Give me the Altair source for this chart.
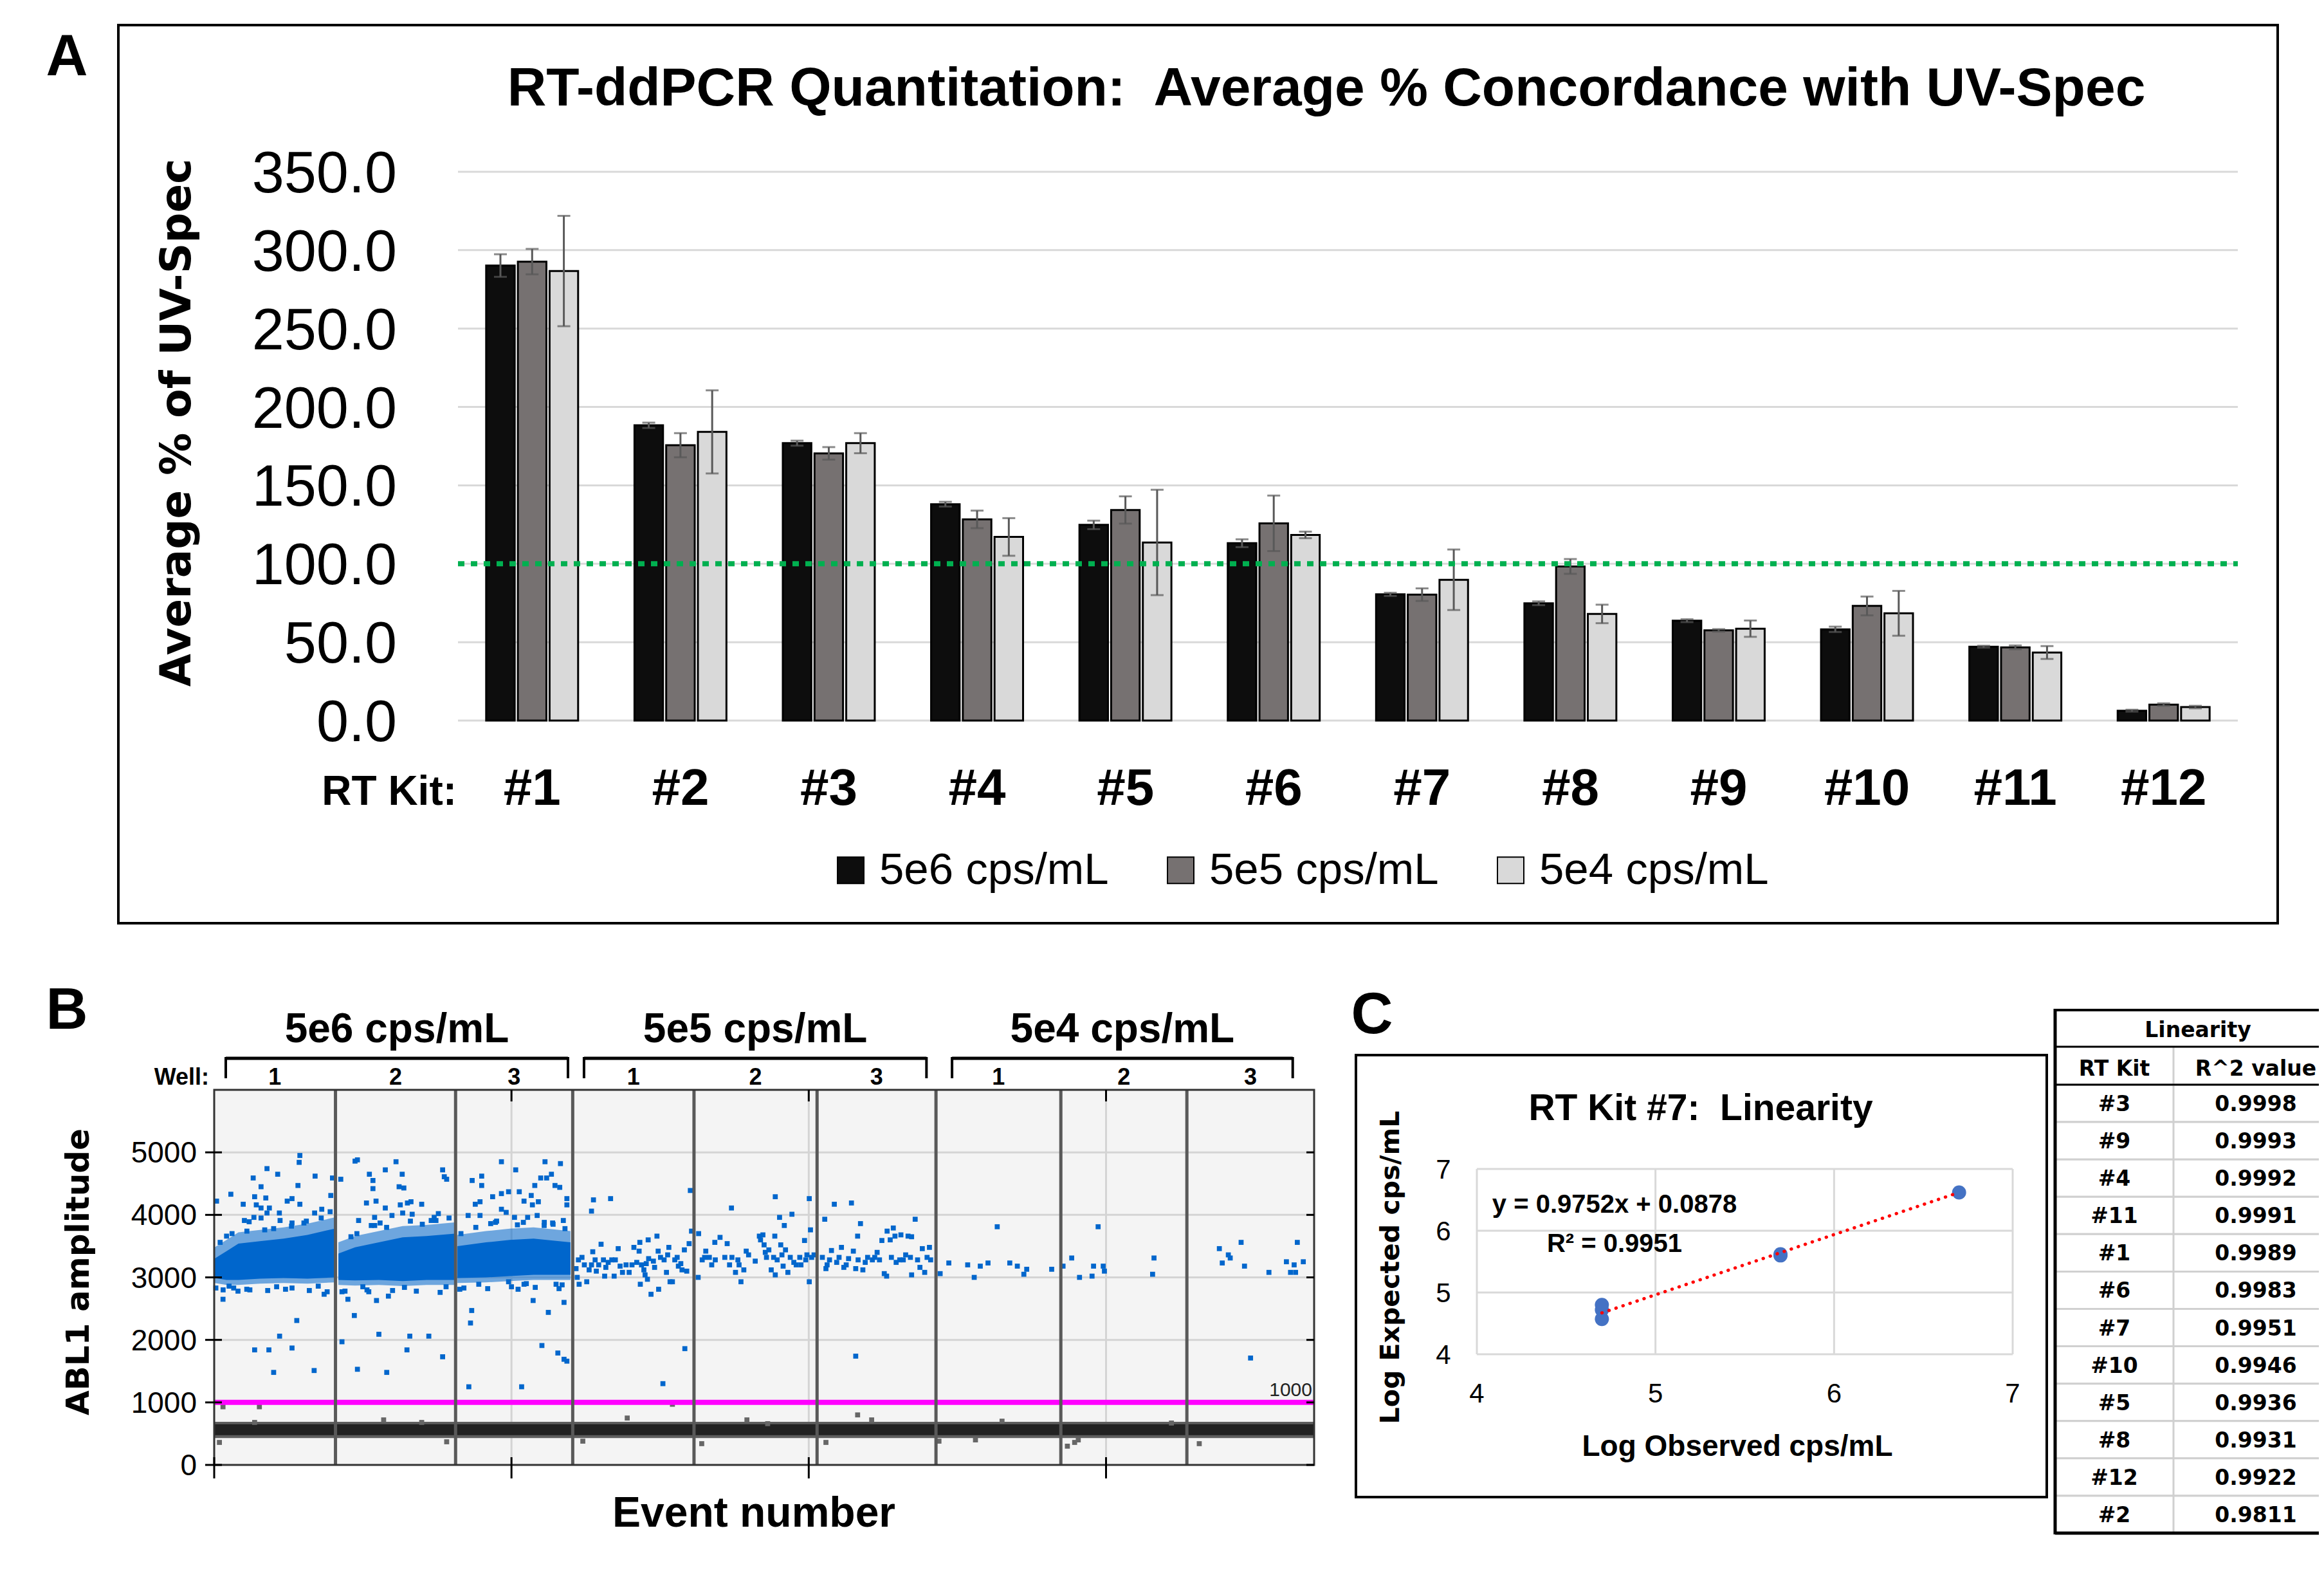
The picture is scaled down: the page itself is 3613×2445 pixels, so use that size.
import altair as alt
import pandas as pd

W, H = 3597, 2429


def P(v):
    return v - 8


SANS = "Liberation Sans, Arial, sans-serif"
WIDE = "DejaVu Sans, Verdana, sans-serif"
BLUE = "#0066cc"
NB = "\u00a0"

# ---------------- Panel A data ----------------
kits = ["#1", "#2", "#3", "#4", "#5", "#6", "#7", "#8", "#9", "#10", "#11", "#12"]
series = ["5e6 cps/mL", "5e5 cps/mL", "5e4 cps/mL"]
v5e6 = [290.2, 188.3, 176.9, 138.0, 124.8, 113.1, 80.5, 74.8, 63.7, 58.2, 47.1, 6.3]
e5e6 = [7.2, 1.7, 1.6, 1.5, 2.7, 2.5, 1.0, 1.2, 0.9, 1.7, 0.6, 0.6]
v5e5 = [292.7, 175.6, 170.4, 128.3, 134.3, 125.8, 80.3, 98.3, 57.5, 73.1, 46.7, 10.2]
e5e5 = [8.1, 7.7, 4.0, 5.6, 8.7, 17.7, 4.0, 4.7, 0.8, 6.0, 1.2, 0.8]
v5e4 = [286.7, 184.1, 176.9, 117.1, 113.6, 118.4, 89.8, 68.0, 58.6, 68.4, 43.4, 8.6]
e5e4 = [35.2, 26.5, 6.4, 12.0, 33.6, 2.1, 19.3, 5.9, 5.2, 14.3, 4.1, 0.8]
gridA = [0, 50, 100, 150, 200, 250, 300, 350]
target = [100]

# ---------------- Panel B data ----------------
well_bounds = [0, 20400, 40600, 60300, 80700, 101400, 121400, 142400, 163600, 185000]
well_names = ["1", "2", "3", "1", "2", "3", "1", "2", "3"]
groups = ["5e6 cps/mL", "5e5 cps/mL", "5e4 cps/mL"]
brack_a = [1950, 62200, 124100]
brack_b = [59500, 119800, 181400]
ampl_ticks = [0, 1000, 2000, 3000, 4000, 5000]
event_ticks = [0, 50000, 100000, 150000]
threshold = [1000]
neg_outer = [430, 690]
neg_core = [475, 650]

core_well = [1] * 7 + [2] * 6 + [3] * 5
core_e = [75, 2077, 4078, 7681, 11684, 15687, 20290,
          20891, 23693, 27696, 31699, 35702, 40506,
          40906, 45710, 49713, 53716, 59921]
core_lo = [2990, 2960, 2960, 2980, 2990, 2980, 3000,
           2960, 2950, 2960, 2940, 2960, 2960,
           2990, 3000, 3020, 3040, 3040]
core_hi = [3300, 3420, 3540, 3580, 3620, 3680, 3780,
           3380, 3480, 3560, 3640, 3660, 3700,
           3500, 3560, 3600, 3620, 3560]
shoulder_bot = [2910, 2880, 2880, 2900, 2910, 2900, 2920,
                2880, 2870, 2880, 2860, 2880, 2880,
                2910, 2920, 2940, 2960, 2960]
shoulder_top = [3480, 3600, 3720, 3760, 3800, 3860, 3960,
                3560, 3660, 3740, 3820, 3840, 3880,
                3680, 3740, 3780, 3800, 3740]

pos_5e6 = [
    (14410, 4950), (14290, 4840), (8880, 4740), (10680, 4650), (6560, 4590), (16970, 4620),
    (19890, 4590), (14090, 4470), (7880, 4450), (2800, 4330), (400, 4220), (6800, 4290),
    (8680, 4270), (12280, 4220), (13090, 4260), (4880, 4170), (7080, 4160), (14410, 4170),
    (7880, 4110), (9280, 4110), (18090, 4090), (19610, 4310), (10960, 4030), (8880, 4030),
    (16890, 4030), (5080, 3910), (5880, 3890), (6680, 3960), (7880, 3950), (11080, 3910),
    (13090, 3870), (15090, 3870), (2080, 3660), (1480, 2650), (18490, 2730), (13090, 2830),
    (5480, 2810), (3280, 2830), (280, 2830), (13890, 2310), (11000, 2060), (6800, 1840),
    (9200, 1840), (13090, 1870), (10000, 1480), (16810, 1510),
    (23690, 4860), (24090, 4880), (30580, 4850), (28780, 4720), (26100, 4650), (31620, 4650),
    (26700, 4550), (31100, 4450), (31900, 4430), (26700, 4420), (21290, 4570), (38420, 4720),
    (38700, 4610), (39100, 4570), (25610, 4190), (27220, 4220), (28780, 4110), (31300, 4160),
    (32500, 4190), (33100, 4210), (34900, 4170), (24290, 3910), (26420, 3830), (27900, 3870),
    (26980, 3960), (29900, 3990), (31700, 4030), (33300, 4010), (37700, 4020), (37300, 3910),
    (36500, 3910), (22490, 2650), (23570, 2390), (25700, 2800), (27300, 2630), (29300, 2700),
    (21490, 2770), (27700, 2090), (32900, 2060), (36100, 2060), (21490, 1970), (32420, 1840),
    (38420, 1730), (24090, 1530), (29020, 1480),
    (48310, 4850), (50710, 4720), (55640, 4850), (58240, 4820), (43390, 4550), (44990, 4620),
    (44990, 4470), (56720, 4650), (55920, 4590), (54920, 4590), (57320, 4470), (58120, 4440),
    (59320, 4260), (49510, 4370), (51310, 4370), (53320, 4310), (53920, 4470), (48310, 4340),
    (46830, 4290), (43910, 4170), (44710, 4210), (52110, 4220), (53520, 4160), (54520, 4210),
    (59320, 4160), (48310, 4090), (49110, 4040), (42710, 3990), (44710, 3990), (47310, 3880),
    (50510, 3960), (52720, 3960), (54320, 3990), (58720, 3910), (55520, 3880), (56920, 3870),
    (41310, 2810), (49510, 2930), (51110, 2810), (52110, 2890), (53640, 2630), (58840, 2600),
    (58520, 2880), (43310, 2470), (43110, 2270), (56200, 2440), (55120, 1910), (57800, 1790),
    (58840, 1690), (59320, 1660), (42830, 1250), (51710, 1250),
    (1500, 2800), (4000, 2780), (6000, 2800), (9000, 2790), (12000, 2810), (16000, 2790),
    (19000, 2770), (22000, 2780), (26000, 2770), (30000, 2790), (34000, 2780), (38000, 2760),
    (42000, 2830), (46000, 2820), (50000, 2850), (54000, 2840), (58000, 2820),
    (3000, 3700), (8500, 3760), (13000, 3820), (18000, 3950), (24000, 3700), (29000, 3800),
    (35000, 3850), (39500, 3950), (44000, 3800), (47500, 3900), (52000, 3880), (57000, 3850),
    (1000, 3560), (5500, 3740), (10000, 3780), (15500, 3900), (19500, 4050), (23000, 3650),
    (27000, 3830), (33000, 3900), (37000, 3960), (41500, 3700), (46500, 3860), (51000, 3840),
    (55500, 3830), (59000, 3780), (2500, 2860), (10500, 2850), (17500, 2860), (25000, 2850),
    (32000, 2840), (39000, 2850), (44500, 2890), (52500, 2900), (57500, 2890),
]

pos_5e5 = [
    (60860, 3140), (61260, 3280), (61860, 3320), (61060, 3000), (61380, 2890), (62660, 2930),
    (63060, 3120), (63460, 3200), (63670, 3410), (64070, 3280), (64270, 3100), (64670, 3200),
    (65070, 3530), (65470, 3280), (65670, 3020), (66270, 3240), (66870, 3280), (67270, 3020),
    (67470, 3280), (67950, 3460), (68270, 3180), (68670, 3080), (69790, 3080), (70270, 3200),
    (70590, 3480), (71070, 3240), (71470, 3420), (71670, 2890), (71870, 3200), (72270, 3120),
    (72670, 3220), (72870, 2970), (73070, 3300), (73470, 2730), (73870, 3260), (74470, 3660),
    (74670, 3420), (74750, 2810), (75070, 3320), (75670, 3280), (76070, 3080), (76270, 3360),
    (76470, 3480), (76670, 2930), (77070, 2930), (77470, 3280), (78070, 3180), (78680, 3120),
    (79080, 3440), (79480, 3100), (79880, 3540), (80280, 3740), (80080, 4390), (63790, 4240),
    (63460, 4060), (66670, 4260), (79160, 1860), (75470, 1300), (72990, 3600), (71590, 3560),
    (62260, 3200), (65870, 3160), (69270, 3200), (72470, 3040), (74070, 3160), (77870, 3320),
    (78480, 3220),
    (81480, 3700), (81400, 3000), (82080, 3280), (82680, 3420), (83280, 3320), (83680, 3200),
    (84200, 3560), (85080, 3640), (85880, 3320), (86280, 3540), (86680, 3200), (87080, 3320),
    (87680, 3080), (88080, 3280), (88600, 2930), (89080, 3120), (89480, 3420), (89880, 3360),
    (91000, 3260), (91690, 3660), (92290, 3680), (92490, 3520), (92890, 3320), (93290, 3440),
    (93690, 3120), (94290, 3660), (94370, 3040), (94690, 3280), (95290, 3520), (95690, 3180),
    (96090, 3440), (96490, 3080), (96890, 3320), (97890, 3200), (98490, 3320), (99290, 3590),
    (99490, 3280), (100090, 2930), (100490, 3320), (100890, 3360), (87000, 4110), (94370, 4290),
    (95090, 3960), (95890, 3830), (97170, 4010), (100090, 4260), (100290, 3760),
    (82480, 3320), (84280, 3280), (88280, 3200), (91890, 3600), (92690, 3400), (94090, 3320),
    (95490, 3360), (97490, 3240), (98690, 3200), (99690, 3360),
    (102290, 3320), (102690, 3930), (102890, 3140), (103490, 3280), (103820, 3430), (104300, 4170),
    (104700, 3240), (105500, 3480), (105900, 3160), (106700, 3300), (107180, 4190), (107500, 3420),
    (107900, 3140), (108300, 3280), (108700, 3860), (108220, 3660), (109100, 3120), (109900, 3320),
    (110700, 3280), (111500, 3400), (112300, 3590), (112700, 3060), (113100, 3020), (113180, 3740),
    (113700, 3600), (114220, 3790), (114500, 3660), (115500, 3680), (115300, 3280), (116300, 3360),
    (116700, 3660), (117300, 3650), (117300, 3040), (117900, 3930), (118300, 3280), (118700, 3160),
    (119100, 3460), (119500, 3080), (120300, 3480), (120500, 3280), (107900, 1740),
    (103090, 3200), (105100, 3320), (106300, 3200), (109500, 3240), (111100, 3320), (111900, 3280),
    (113900, 3320), (114700, 3240), (115900, 3280), (117100, 3320), (119900, 3320),
]

pos_5e4 = [
    (122100, 3060), (123560, 3230), (126730, 3200), (127830, 3000), (128850, 3180), (130150, 3230),
    (131700, 3810), (133810, 3230), (135080, 3180), (136180, 3050), (136660, 3130), (140860, 3130),
    (142770, 3180), (144230, 3310), (145540, 3000), (147650, 3020), (147900, 3180), (148670, 3810),
    (149530, 3180), (149730, 3100), (157830, 3050), (158070, 3310),
    (169060, 3460), (169550, 3230), (170570, 3360), (170890, 3310), (172720, 3560), (173290, 3180),
    (174310, 1710), (177400, 3080), (180340, 3250), (181030, 3080), (181640, 3200), (181880, 3080),
    (182170, 3560), (183180, 3250),
]

neg_strays = [
    (1480, 930), (7600, 930), (6800, 680), (28500, 720), (34900, 680), (39100, 370), (880, 360),
    (69470, 750), (77070, 970), (89600, 720), (93090, 660), (108220, 800), (110580, 720),
    (102890, 360), (132510, 700), (128040, 400), (143500, 300), (144720, 360), (145330, 400),
    (165680, 340), (161000, 670), (62000, 380), (82000, 340), (121900, 380),
]

# ---------------- Panel C data ----------------
obs_x = [4.70, 4.70, 4.70, 5.70, 5.70, 6.70]
exp_y = [4.80, 4.72, 4.57, 5.62, 5.60, 6.62]
trend_x = [4.70, 6.70]
trend_y = [4.67, 6.62]
c_ticks = [4, 5, 6, 7]

# ---------------- Table data ----------------
tbl_kits = ["#3", "#9", "#4", "#11", "#1", "#6", "#7", "#10", "#5", "#8", "#12", "#2"]
tbl_r2 = ["0.9998", "0.9993", "0.9992", "0.9991", "0.9989", "0.9983",
          "0.9951", "0.9946", "0.9936", "0.9931", "0.9922", "0.9811"]

# =====================================================================
layers = []


def one():
    return pd.DataFrame({"k": [0]})


def label(s, x, y, size, font=SANS, bold=True, align="center", angle=0,
          color="black", baseline="alphabetic"):
    return alt.Chart(one()).mark_text(
        text=s, font=font, fontSize=size, fontWeight="bold" if bold else "normal",
        align=align, angle=angle, baseline=baseline, color=color
    ).encode(x=alt.value(P(x)), y=alt.value(P(y)))


def frame(x0, y0, x1, y1, width=4, color="black"):
    return alt.Chart(one()).mark_rect(fillOpacity=0, stroke=color, strokeWidth=width).encode(
        x=alt.value(P(x0)), x2=alt.value(P(x1)), y=alt.value(P(y0)), y2=alt.value(P(y1)))


# ---------------- Panel A ----------------
rowsA = []
for s, vals, errs in zip(series, [v5e6, v5e5, v5e4], [e5e6, e5e5, e5e4]):
    for k, v, e in zip(kits, vals, errs):
        rowsA.append({"kit": k, "series": s, "value": v, "lo": v - e, "hi": v + e})
dfA = pd.DataFrame(rowsA)

xA = alt.X("kit:N", sort=kits, axis=None,
           scale=alt.Scale(domain=kits, range=[P(712), P(3479)], paddingInner=0.38, paddingOuter=0.19))
xoA = alt.XOffset("series:N", sort=series, scale=alt.Scale(domain=series, paddingInner=0.1))


def yA(f):
    return alt.Y(f + ":Q", axis=None,
                 scale=alt.Scale(domain=[0, 350], range=[P(1120), P(267)], nice=False, zero=False))


layers.append(frame(184, 39, 3541, 1435, width=4))
layers.append(
    alt.Chart(pd.DataFrame({"g": gridA})).mark_rule(color="#d9d9d9", strokeWidth=3).encode(
        y=yA("g"), x=alt.value(P(712)), x2=alt.value(P(3479))))
layers.append(
    alt.Chart(pd.DataFrame({"g": gridA, "lab": [f"{g:.1f}" for g in gridA]})).mark_text(
        font=SANS, fontSize=90, align="right", baseline="alphabetic", dy=32, color="black").encode(
        y=yA("g"), x=alt.value(P(617)), text="lab:N"))
layers.append(
    alt.Chart(dfA).mark_bar(stroke="black", strokeWidth=3).encode(
        x=xA, xOffset=xoA, y=yA("value"),
        color=alt.Color("series:N", sort=series,
                        scale=alt.Scale(domain=series, range=["#0d0d0d", "#767171", "#d9d9d9"]),
                        legend=alt.Legend(orient="none", legendX=P(1288), legendY=P(1318),
                                          direction="horizontal", title=None, symbolType="square",
                                          symbolSize=1681, symbolStrokeColor="black",
                                          symbolStrokeWidth=2, labelFont=SANS, labelFontSize=69,
                                          labelColor="black", labelOffset=10, columnPadding=77,
                                          padding=0, labelLimit=0))))
layers.append(
    alt.Chart(dfA).mark_bar(width=3, color="#595959").encode(
        x=xA, xOffset=xoA, y=yA("lo"), y2="hi"))
for f in ["lo", "hi"]:
    layers.append(
        alt.Chart(dfA).mark_tick(color="#595959", thickness=3, size=20).encode(
            x=xA, xOffset=xoA, y=yA(f)))
layers.append(
    alt.Chart(pd.DataFrame({"t": target})).mark_rule(
        color="#00b050", strokeWidth=8, strokeDash=[10, 10]).encode(
        y=yA("t"), x=alt.value(P(712)), x2=alt.value(P(3479))))
layers.append(
    alt.Chart(pd.DataFrame({"kit": kits})).mark_text(
        font=SANS, fontSize=80, fontWeight="bold", baseline="alphabetic", color="black").encode(
        x=xA, y=alt.value(P(1251)), text="kit:N"))
layers.append(label("RT Kit:", 710, 1251, 64, align="right"))
layers.append(label("RT-ddPCR Quantitation:" + NB + " Average % Concordance with UV-Spec", 2062, 164, 84))
layers.append(label("Average % of UV-Spec", 296, 657, 66, font=WIDE, angle=270))
layers.append(label("A", 104, 117, 90))

# ---------------- Panel B ----------------


def xB(f):
    return alt.X(f + ":Q", axis=None,
                 scale=alt.Scale(domain=[0, 185000], range=[P(333), P(2043)], nice=False, zero=False))


def yB(f):
    return alt.Y(f + ":Q", axis=None,
                 scale=alt.Scale(domain=[0, 6000], range=[P(2277), P(1694)], nice=False, zero=False))


layers.append(
    alt.Chart(pd.DataFrame({"x0": [well_bounds[0]], "x1": [well_bounds[-1]], "y0": [0], "y1": [6000]}))
    .mark_rect(color="#f4f4f4").encode(x=xB("x0"), x2="x1", y=yB("y0"), y2="y1"))
layers.append(
    alt.Chart(pd.DataFrame({"v": ampl_ticks[1:]})).mark_rule(color="#d4d4d4", strokeWidth=3).encode(
        y=yB("v"), x=alt.value(P(333)), x2=alt.value(P(2043))))
layers.append(
    alt.Chart(pd.DataFrame({"e": event_ticks[1:]})).mark_rule(color="#d4d4d4", strokeWidth=3).encode(
        x=xB("e"), y=alt.value(P(1694)), y2=alt.value(P(2277))))
bands = pd.DataFrame({"x0": [well_bounds[0]], "x1": [well_bounds[-1]],
                      "o0": [neg_outer[0]], "o1": [neg_outer[1]],
                      "c0": [neg_core[0]], "c1": [neg_core[1]]})
layers.append(alt.Chart(bands).mark_rect(color="#5e5e5e").encode(x=xB("x0"), x2="x1", y=yB("o0"), y2="o1"))
layers.append(alt.Chart(bands).mark_rect(color="#222222").encode(x=xB("x0"), x2="x1", y=yB("c0"), y2="c1"))
layers.append(
    alt.Chart(pd.DataFrame(neg_strays, columns=["e", "v"])).mark_square(size=60, color="#666666", opacity=1)
    .encode(x=xB("e"), y=yB("v")))
dfcore = pd.DataFrame({"well": core_well, "e": core_e, "lo": core_lo, "hi": core_hi,
                       "bot": shoulder_bot, "top": shoulder_top})
layers.append(alt.Chart(dfcore).mark_area(color=BLUE, opacity=0.55).encode(
    x=xB("e"), y=yB("bot"), y2="top", detail="well:N"))
layers.append(alt.Chart(dfcore).mark_area(color=BLUE, opacity=1).encode(
    x=xB("e"), y=yB("lo"), y2="hi", detail="well:N"))
layers.append(
    alt.Chart(pd.DataFrame(pos_5e6 + pos_5e5 + pos_5e4, columns=["e", "v"]))
    .mark_square(size=60, color=BLUE, opacity=1).encode(x=xB("e"), y=yB("v")))
layers.append(
    alt.Chart(pd.DataFrame({"t": threshold})).mark_rule(color="#ff00ff", strokeWidth=8).encode(
        y=yB("t"), x=alt.value(P(333)), x2=alt.value(P(2043))))
layers.append(
    alt.Chart(pd.DataFrame({"b": well_bounds[1:-1]})).mark_rule(color="#595959", strokeWidth=5).encode(
        x=xB("b"), y=alt.value(P(1694)), y2=alt.value(P(2277))))
layers.append(
    alt.Chart(pd.DataFrame({"x0": [well_bounds[0]], "x1": [well_bounds[-1]], "y0": [0], "y1": [6000]}))
    .mark_rect(fillOpacity=0, stroke="#333333", strokeWidth=3).encode(x=xB("x0"), x2="x1", y=yB("y0"), y2="y1"))
layers.append(
    alt.Chart(pd.DataFrame({"v": ampl_ticks})).mark_rule(color="black", strokeWidth=3).encode(
        y=yB("v"), x=alt.value(P(319)), x2=alt.value(P(345))))
layers.append(
    alt.Chart(pd.DataFrame({"v": ampl_ticks})).mark_rule(color="black", strokeWidth=3).encode(
        y=yB("v"), x=alt.value(P(2031)), x2=alt.value(P(2043))))
layers.append(
    alt.Chart(pd.DataFrame({"e": event_ticks})).mark_rule(color="black", strokeWidth=3).encode(
        x=xB("e"), y=alt.value(P(2265)), y2=alt.value(P(2298))))
layers.append(
    alt.Chart(pd.DataFrame({"e": event_ticks[1:]})).mark_rule(color="black", strokeWidth=3).encode(
        x=xB("e"), y=alt.value(P(1694)), y2=alt.value(P(1712))))
layers.append(
    alt.Chart(pd.DataFrame({"v": ampl_ticks, "lab": [str(v) for v in ampl_ticks]})).mark_text(
        font=SANS, fontSize=46, align="right", baseline="alphabetic", dy=16, color="black").encode(
        y=yB("v"), x=alt.value(P(306)), text="lab:N"))
layers.append(
    alt.Chart(pd.DataFrame({"t": threshold, "lab": [str(t) for t in threshold]})).mark_text(
        font=SANS, fontSize=30, align="right", baseline="alphabetic", dy=-10, color="#222222").encode(
        y=yB("t"), x=alt.value(P(2040)), text="lab:N"))
dfbr = pd.DataFrame({"a": brack_a, "b": brack_b, "g": groups,
                     "c": [(a + b) / 2 for a, b in zip(brack_a, brack_b)]})
layers.append(alt.Chart(dfbr).mark_rule(color="black", strokeWidth=5).encode(
    x=xB("a"), x2="b", y=alt.value(P(1645))))
for f in ["a", "b"]:
    layers.append(alt.Chart(dfbr).mark_rule(color="black", strokeWidth=4).encode(
        x=xB(f), y=alt.value(P(1643)), y2=alt.value(P(1676))))
layers.append(alt.Chart(dfbr).mark_text(font=SANS, fontSize=64, fontWeight="bold",
                                         baseline="alphabetic", color="black").encode(
    x=xB("c"), y=alt.value(P(1620)), text="g:N"))
dfwells = pd.DataFrame({"c": [(well_bounds[i] + well_bounds[i + 1]) / 2 for i in range(9)],
                        "n": well_names})
layers.append(alt.Chart(dfwells).mark_text(font=SANS, fontSize=36, fontWeight="bold",
                                            baseline="alphabetic", color="black").encode(
    x=xB("c"), y=alt.value(P(1686)), text="n:N"))
layers.append(label("Well:", 325, 1686, 36, align="right"))
layers.append(label("ABL1 amplitude", 138, 1977, 50, font=WIDE, angle=270))
layers.append(label("Event number", 1172, 2373, 66))
layers.append(label("B", 104, 1599, 90))

# ---------------- Panel C ----------------


def xC(f):
    return alt.X(f + ":Q", axis=None,
                 scale=alt.Scale(domain=[4, 7], range=[P(2296), P(3129)], nice=False, zero=False))


def yC(f):
    return alt.Y(f + ":Q", axis=None,
                 scale=alt.Scale(domain=[4, 7], range=[P(2105), P(1817)], nice=False, zero=False))


layers.append(frame(2108, 1640, 3182, 2327, width=4))
dft = pd.DataFrame({"t": c_ticks, "lab": [str(t) for t in c_ticks]})
layers.append(alt.Chart(dft).mark_rule(color="#d9d9d9", strokeWidth=3).encode(
    x=xC("t"), y=alt.value(P(1817)), y2=alt.value(P(2105))))
layers.append(alt.Chart(dft).mark_rule(color="#d9d9d9", strokeWidth=3).encode(
    y=yC("t"), x=alt.value(P(2296)), x2=alt.value(P(3129))))
layers.append(alt.Chart(dft).mark_text(font=SANS, fontSize=42, baseline="alphabetic", dy=15,
                                        color="black").encode(
    y=yC("t"), x=alt.value(P(2244)), text="lab:N"))
layers.append(alt.Chart(dft).mark_text(font=SANS, fontSize=42, baseline="alphabetic",
                                        color="black").encode(
    x=xC("t"), y=alt.value(P(2180)), text="lab:N"))
layers.append(alt.Chart(pd.DataFrame({"x": obs_x, "y": exp_y})).mark_circle(
    size=480, color="#4472c4", opacity=1).encode(x=xC("x"), y=yC("y")))
layers.append(alt.Chart(pd.DataFrame({"x": trend_x, "y": trend_y})).mark_line(
    color="#ff0000", strokeWidth=5, strokeDash=[0.5, 11], strokeCap="round").encode(
    x=xC("x"), y=yC("y")))
layers.append(label("RT Kit #7:" + NB + " Linearity", 2644, 1741, 57))
layers.append(label("y = 0.9752x + 0.0878", 2510, 1885, 40))
layers.append(label("R² = 0.9951", 2510, 1946, 40))
layers.append(label("Log Observed cps/mL", 2701, 2263, 46))
layers.append(label("Log Expected cps/mL", 2175, 1970, 41, font=WIDE, angle=270))
layers.append(label("C", 2133, 1606, 90))

# ---------------- Table ----------------
dftab = pd.DataFrame({"kit": tbl_kits, "r2": tbl_r2})
yT = alt.Y("kit:N", sort=tbl_kits, axis=None,
           scale=alt.Scale(domain=tbl_kits, range=[P(1686), P(2383)], paddingInner=0, paddingOuter=0))
layers.append(alt.Chart(dftab).mark_rect(fill="white", stroke="#d0d0d0", strokeWidth=3).encode(
    y=yT, x=alt.value(P(3195)), x2=alt.value(W + 10)))
layers.append(alt.Chart(one()).mark_rule(color="#d0d0d0", strokeWidth=3).encode(
    x=alt.value(P(3379)), y=alt.value(P(1627)), y2=alt.value(P(2383))))
layers.append(alt.Chart(dftab).mark_text(font=WIDE, fontSize=33, fontWeight="bold",
                                          baseline="alphabetic", dy=12, color="black").encode(
    y=yT, x=alt.value(P(3287)), text="kit:N"))
layers.append(alt.Chart(dftab).mark_text(font=WIDE, fontSize=33, fontWeight="bold",
                                          baseline="alphabetic", dy=12, color="black").encode(
    y=yT, x=alt.value(P(3507)), text="r2:N"))
for yy, wdt in [(1570, 4), (1627, 3), (1686, 3), (2383, 5)]:
    layers.append(alt.Chart(one()).mark_rule(color="black", strokeWidth=wdt).encode(
        y=alt.value(P(yy)), x=alt.value(P(3195)), x2=alt.value(W + 10)))
layers.append(alt.Chart(one()).mark_rule(color="black", strokeWidth=5).encode(
    x=alt.value(P(3195)), y=alt.value(P(1568)), y2=alt.value(P(2385))))
layers.append(label("Linearity", 3417, 1612, 33, font=WIDE))
layers.append(label("RT Kit", 3287, 1672, 33, font=WIDE))
layers.append(label("R^2 value", 3507, 1672, 33, font=WIDE))

chart = alt.layer(*layers).resolve_scale(
    x="independent", y="independent", color="independent", xOffset="independent"
).properties(width=W, height=H, autosize=alt.AutoSizeParams(type="none"), padding=0).configure_view(
    stroke=None)

chart.save("out.html", embed_options={"renderer": "svg", "actions": False})
